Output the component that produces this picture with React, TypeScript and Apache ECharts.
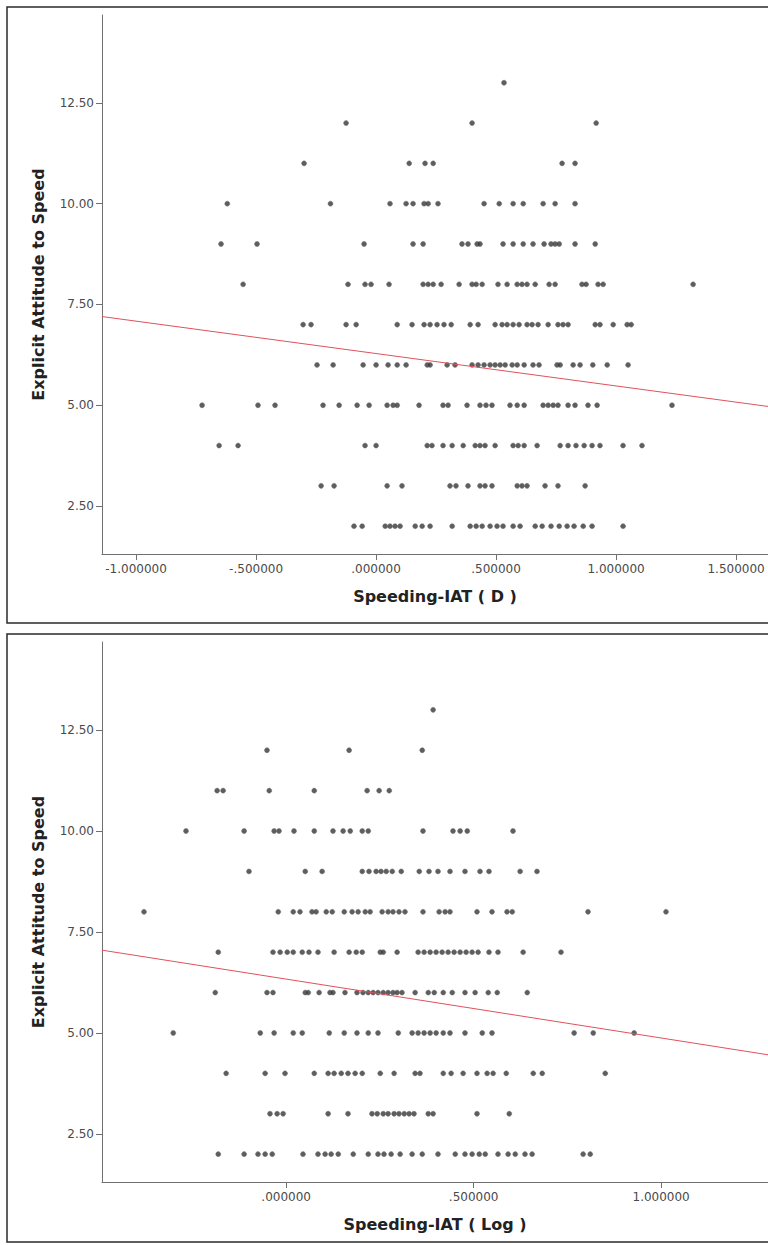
import React, { useEffect, useRef } from "react";
import * as echarts from "echarts";

// ---------- Top chart: Speeding-IAT ( D ) ----------
const topAt13 = [0.533];
const topAt12 = [-0.125, 0.4, 0.917];
const topAt11 = [-0.3, 0.138, 0.204, 0.238, 0.775, 0.829];
const topAt10 = [-0.62, -0.19, 0.058, 0.125, 0.154, 0.2, 0.217, 0.258, 0.45, 0.513, 0.571, 0.613, 0.696, 0.746, 0.829];
const topAt9 = [-0.646, -0.496, -0.05, 0.154, 0.196, 0.358, 0.383, 0.421, 0.433, 0.529, 0.571, 0.613, 0.654, 0.7, 0.729, 0.746, 0.763, 0.829, 0.913];
const topAt8 = [-0.554, -0.117, -0.046, -0.021, 0.054, 0.196, 0.217, 0.238, 0.271, 0.346, 0.4, 0.417, 0.442, 0.508, 0.546, 0.588, 0.608, 0.629, 0.663, 0.721, 0.746, 0.858, 0.875, 0.925, 0.946, 1.321];
const topAt7 = [-0.304, -0.271, -0.125, -0.083, 0.088, 0.15, 0.2, 0.225, 0.254, 0.283, 0.313, 0.392, 0.425, 0.496, 0.525, 0.546, 0.571, 0.596, 0.629, 0.65, 0.675, 0.717, 0.758, 0.779, 0.8, 0.913, 0.933, 0.988, 1.046, 1.063];
const topAt6 = [-0.246, -0.179, -0.054, 0.0, 0.05, 0.088, 0.125, 0.213, 0.225, 0.296, 0.329, 0.4, 0.425, 0.45, 0.475, 0.496, 0.517, 0.538, 0.567, 0.588, 0.617, 0.654, 0.679, 0.754, 0.767, 0.821, 0.85, 0.903, 0.963, 1.05];
const topAt5 = [-0.725, -0.492, -0.421, -0.221, -0.154, -0.079, -0.029, 0.046, 0.071, 0.088, 0.179, 0.279, 0.3, 0.379, 0.433, 0.458, 0.483, 0.558, 0.588, 0.617, 0.696, 0.717, 0.738, 0.758, 0.8, 0.829, 0.883, 0.921, 1.233];
const topAt4 = [-0.654, -0.575, -0.046, 0.0, 0.213, 0.233, 0.279, 0.317, 0.363, 0.413, 0.433, 0.454, 0.496, 0.571, 0.592, 0.617, 0.671, 0.767, 0.8, 0.833, 0.867, 0.9, 0.933, 1.029, 1.108];
const topAt3 = [-0.229, -0.175, 0.046, 0.108, 0.308, 0.333, 0.383, 0.433, 0.454, 0.483, 0.588, 0.608, 0.629, 0.704, 0.758, 0.871];
const topAt2 = [-0.092, -0.058, 0.038, 0.058, 0.079, 0.1, 0.163, 0.192, 0.225, 0.317, 0.392, 0.417, 0.442, 0.475, 0.504, 0.529, 0.571, 0.6, 0.663, 0.692, 0.729, 0.763, 0.796, 0.825, 0.863, 0.9, 1.029];
const topFit = [[-1.142, 7.2], [1.633, 4.97]];
const topXTicks = [-1, -0.5, 0, 0.5, 1, 1.5];

// ---------- Bottom chart: Speeding-IAT ( Log ) ----------
const botAt13 = [0.392];
const botAt12 = [-0.051, 0.168, 0.363];
const botAt11 = [-0.184, -0.168, -0.045, 0.075, 0.216, 0.248, 0.275];
const botAt10 = [-0.267, -0.112, -0.032, -0.019, 0.021, 0.075, 0.125, 0.152, 0.171, 0.203, 0.219, 0.365, 0.445, 0.464, 0.483, 0.605];
const botAt9 = [-0.099, 0.051, 0.096, 0.203, 0.221, 0.24, 0.253, 0.267, 0.283, 0.307, 0.355, 0.381, 0.405, 0.437, 0.477, 0.517, 0.541, 0.624, 0.669];
const botAt8 = [-0.379, -0.021, 0.019, 0.037, 0.069, 0.08, 0.107, 0.123, 0.155, 0.176, 0.192, 0.211, 0.224, 0.256, 0.272, 0.285, 0.301, 0.317, 0.365, 0.408, 0.424, 0.437, 0.509, 0.549, 0.589, 0.603, 0.805, 1.013];
const botAt7 = [-0.181, -0.035, -0.016, 0.003, 0.019, 0.043, 0.061, 0.085, 0.128, 0.168, 0.187, 0.203, 0.251, 0.259, 0.296, 0.352, 0.368, 0.384, 0.4, 0.416, 0.432, 0.448, 0.464, 0.48, 0.496, 0.512, 0.541, 0.565, 0.632, 0.733];
const botAt6 = [-0.189, -0.051, -0.035, 0.051, 0.059, 0.088, 0.117, 0.125, 0.157, 0.189, 0.205, 0.219, 0.232, 0.245, 0.259, 0.272, 0.285, 0.296, 0.309, 0.344, 0.379, 0.395, 0.419, 0.443, 0.477, 0.504, 0.539, 0.563, 0.643];
const botAt5 = [-0.301, -0.069, -0.032, 0.019, 0.043, 0.115, 0.155, 0.189, 0.219, 0.245, 0.299, 0.336, 0.352, 0.368, 0.384, 0.4, 0.419, 0.437, 0.477, 0.523, 0.549, 0.768, 0.819, 0.928];
const botAt4 = [-0.16, -0.056, -0.003, 0.075, 0.112, 0.128, 0.147, 0.165, 0.184, 0.203, 0.251, 0.288, 0.344, 0.357, 0.419, 0.44, 0.472, 0.509, 0.536, 0.552, 0.587, 0.659, 0.683, 0.851];
const botAt3 = [-0.043, -0.024, -0.008, 0.112, 0.165, 0.229, 0.243, 0.259, 0.272, 0.288, 0.301, 0.315, 0.328, 0.341, 0.379, 0.392, 0.509, 0.595];
const botAt2 = [-0.181, -0.112, -0.075, -0.056, -0.037, 0.045, 0.085, 0.104, 0.12, 0.139, 0.179, 0.219, 0.245, 0.261, 0.28, 0.304, 0.336, 0.363, 0.405, 0.451, 0.477, 0.496, 0.515, 0.531, 0.565, 0.592, 0.611, 0.637, 0.656, 0.792, 0.811];
const botFit = [[-0.491, 7.05], [1.285, 4.46]];
const botXTicks = [0, 0.5, 1];

const yTicks = [2.5, 5, 7.5, 10, 12.5];

const topRows: [number, number[]][] = [
  [13, topAt13], [12, topAt12], [11, topAt11], [10, topAt10], [9, topAt9], [8, topAt8],
  [7, topAt7], [6, topAt6], [5, topAt5], [4, topAt4], [3, topAt3], [2, topAt2],
];
const botRows: [number, number[]][] = [
  [13, botAt13], [12, botAt12], [11, botAt11], [10, botAt10], [9, botAt9], [8, botAt8],
  [7, botAt7], [6, botAt6], [5, botAt5], [4, botAt4], [3, botAt3], [2, botAt2],
];

const toPoints = (rows: [number, number[]][]) =>
  rows.flatMap(([y, xs]) => xs.map((x) => [x, y]));

const spss = (v: number) => {
  let s = Math.abs(v).toFixed(6);
  if (s.startsWith("0")) s = s.slice(1);
  return (v < 0 ? "-" : "") + s;
};

const FONT = "DejaVu Sans";

function xAxisCfg(grid: number, min: number, max: number, ticks: number[], name: string) {
  return {
    type: "value",
    gridIndex: grid,
    min,
    max,
    name,
    nameLocation: "middle",
    nameGap: 34,
    nameTextStyle: { fontFamily: FONT, fontWeight: "bold", fontSize: 16, color: "#222" },
    splitLine: { show: false },
    axisLine: { show: true, onZero: false, lineStyle: { color: "#707070", width: 1 } },
    axisTick: { show: true, length: 6, customValues: ticks, lineStyle: { color: "#707070" } },
    axisLabel: {
      customValues: ticks,
      formatter: (v: number) => spss(v),
      fontFamily: FONT,
      fontSize: 12,
      color: "#4a4a4a",
      margin: 9,
      showMinLabel: true,
      showMaxLabel: true,
    },
  };
}

function yAxisCfg(grid: number) {
  return {
    type: "value",
    gridIndex: grid,
    min: 1.31,
    max: 14.68,
    name: "Explicit Attitude to Speed",
    nameLocation: "middle",
    nameGap: 56,
    nameTextStyle: { fontFamily: FONT, fontWeight: "bold", fontSize: 16, color: "#222" },
    splitLine: { show: false },
    axisLine: { show: true, onZero: false, lineStyle: { color: "#707070", width: 1 } },
    axisTick: { show: true, length: 6, customValues: yTicks, lineStyle: { color: "#707070" } },
    axisLabel: {
      customValues: yTicks,
      formatter: (v: number) => v.toFixed(2),
      fontFamily: FONT,
      fontSize: 12,
      color: "#4a4a4a",
      margin: 8,
    },
  };
}

export default function App() {
  const ref = useRef<HTMLDivElement>(null);
  useEffect(() => {
    if (!ref.current) return;
    const chart = echarts.init(ref.current, undefined, { renderer: "svg" });
    const dotStyle = { color: "#363636", borderColor: "#6a6a6a", borderWidth: 0.6 };
    chart.setOption({
      animation: false,
      backgroundColor: "#fff",
      graphic: [
        { type: "rect", shape: { x: 7, y: 7, width: 775, height: 616 }, style: { fill: "none", stroke: "#2a2a2a", lineWidth: 1.5 }, silent: true },
        { type: "rect", shape: { x: 7, y: 634, width: 775, height: 608 }, style: { fill: "none", stroke: "#2a2a2a", lineWidth: 1.5 }, silent: true },
      ],
      grid: [
        { left: 102, top: 15, width: 666, height: 539 },
        { left: 102, top: 642, width: 666, height: 540 },
      ],
      xAxis: [
        xAxisCfg(0, -1.142, 1.633, topXTicks, "Speeding-IAT ( D )"),
        xAxisCfg(1, -0.491, 1.285, botXTicks, "Speeding-IAT ( Log )"),
      ],
      yAxis: [yAxisCfg(0), yAxisCfg(1)],
      series: [
        {
          type: "scatter",
          xAxisIndex: 0,
          yAxisIndex: 0,
          symbol: "circle",
          symbolSize: 5,
          itemStyle: dotStyle,
          data: toPoints(topRows),
          silent: true,
        },
        {
          type: "line",
          xAxisIndex: 0,
          yAxisIndex: 0,
          data: topFit,
          symbol: "none",
          lineStyle: { color: "#e0525c", width: 1 },
          silent: true,
        },
        {
          type: "scatter",
          xAxisIndex: 1,
          yAxisIndex: 1,
          symbol: "circle",
          symbolSize: 5,
          itemStyle: dotStyle,
          data: toPoints(botRows),
          silent: true,
        },
        {
          type: "line",
          xAxisIndex: 1,
          yAxisIndex: 1,
          data: botFit,
          symbol: "none",
          lineStyle: { color: "#e0525c", width: 1 },
          silent: true,
        },
      ],
    });
    return () => chart.dispose();
  }, []);
  return (
    <div
      ref={ref}
      style={{ position: "absolute", left: 0, top: 0, width: 768, height: 1245, background: "#fff" }}
    />
  );
}
